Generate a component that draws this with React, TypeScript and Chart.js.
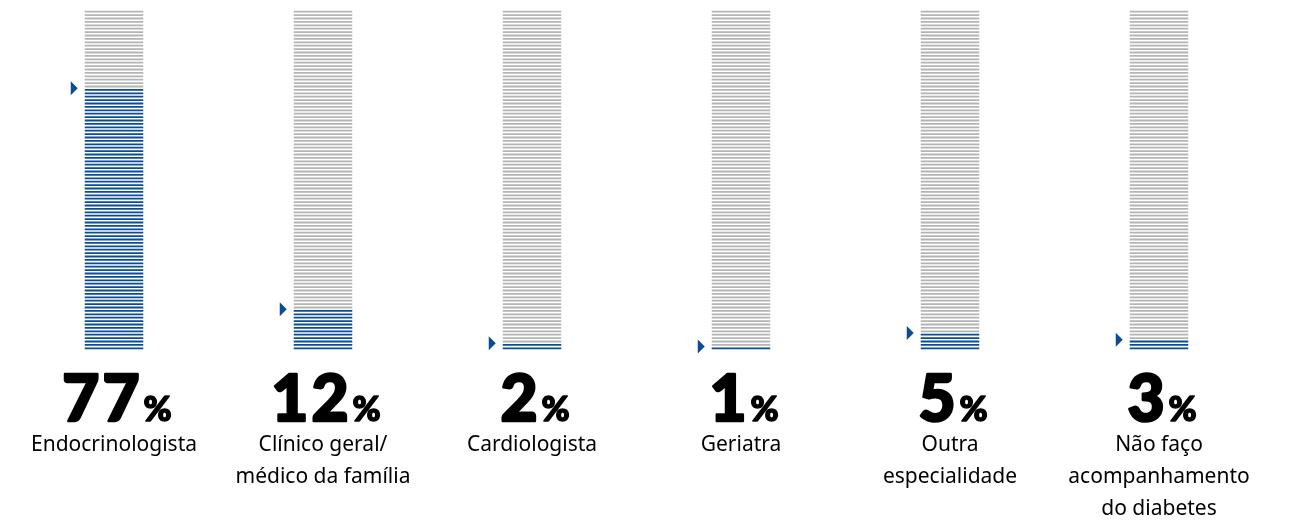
import React, { useEffect, useRef } from "react";
import { Chart, registerables } from "chart.js";

Chart.register(...registerables);

const categories: (string | string[])[] = [
  "Endocrinologista",
  ["Clínico geral/", "médico da família"],
  "Cardiologista",
  "Geriatra",
  ["Outra", "especialidade"],
  ["Não faço", "acompanhamento", "do diabetes"],
];
const percentValues = [77, 12, 2, 1, 5, 3];
const remainderValues = percentValues.map((v) => 100 - v);
const scaleMax = 100;

const BLUE = "#0b4c96";
const GREY = "#b4b4b4";

const stripesPlugin = {
  id: "stripes",
  afterDatasetsDraw(chart: any) {
    const ctx = chart.ctx;
    const y = chart.scales.y;
    const x = chart.scales.x;
    ctx.save();
    chart.data.datasets.forEach((ds: any, di: number) => {
      const meta = chart.getDatasetMeta(di);
      const color = ds.stripeColor;
      meta.data.forEach((bar: any, i: number) => {
        const props = bar.getProps(["x", "y", "base", "width"], true);
        const left = props.x - props.width / 2;
        const right = props.x + props.width / 2;
        const startVal = di === 0 ? 0 : percentValues[i];
        const endVal = startVal + ds.data[i];
        ctx.strokeStyle = color;
        ctx.lineWidth = 1.8;
        for (let u = startVal; u < endVal; u++) {
          const py = y.getPixelForValue(u + 0.5);
          ctx.beginPath();
          ctx.moveTo(left, py);
          ctx.lineTo(right, py);
          ctx.stroke();
        }
        if (di === 0) {
          const ty = y.getPixelForValue(percentValues[i]);
          const tipX = left - 7;
          ctx.fillStyle = BLUE;
          ctx.beginPath();
          ctx.moveTo(tipX - 7, ty - 7);
          ctx.lineTo(tipX, ty);
          ctx.lineTo(tipX - 7, ty + 7);
          ctx.closePath();
          ctx.fill();
        }
      });
    });
    // texts
    const numFont = "900 64px Lato, 'DejaVu Sans', sans-serif";
    const pctFont = "900 34px Lato, 'DejaVu Sans', sans-serif";
    const labFont = "21px 'Noto Sans', 'DejaVu Sans', sans-serif";
    percentValues.forEach((v, i) => {
      const cx = x.getPixelForValue(i);
      const numStr = String(v);
      ctx.font = numFont;
      (ctx as any).letterSpacing = "3px";
      const wn = ctx.measureText(numStr).width - 3;
      (ctx as any).letterSpacing = "0px";
      ctx.font = pctFont;
      const wp = ctx.measureText("%").width;
      const start = cx - (wn + wp + 4) / 2 + 3;
      ctx.fillStyle = "#000";
      ctx.strokeStyle = "#000";
      ctx.lineJoin = "round";
      ctx.textBaseline = "alphabetic";
      ctx.textAlign = "left";
      ctx.font = numFont;
      (ctx as any).letterSpacing = "3px";
      ctx.lineWidth = 2.5;
      ctx.fillText(numStr, start, 421);
      ctx.strokeText(numStr, start, 421);
      (ctx as any).letterSpacing = "0px";
      ctx.font = pctFont;
      ctx.lineWidth = 1.5;
      ctx.fillText("%", start + wn + 4, 421);
      ctx.strokeText("%", start + wn + 4, 421);
      const lab = categories[i];
      const lines = Array.isArray(lab) ? lab : [lab];
      ctx.font = labFont;
      ctx.textAlign = "center";
      lines.forEach((ln, k) => {
        ctx.fillText(ln, cx, 451 + k * 32);
      });
    });
    ctx.restore();
  },
};

export default function App() {
  const ref = useRef<HTMLCanvasElement>(null);
  useEffect(() => {
    if (!ref.current) return;
    const chart = new Chart(ref.current, {
      type: "bar",
      data: {
        labels: categories.map((c) => (Array.isArray(c) ? c.join(" ") : c)),
        datasets: [
          {
            label: "Respondentes",
            data: percentValues,
            backgroundColor: "rgba(0,0,0,0)",
            stripeColor: BLUE,
          } as any,
          {
            label: "Restante",
            data: remainderValues,
            backgroundColor: "rgba(0,0,0,0)",
            stripeColor: GREY,
          } as any,
        ],
      },
      options: {
        animation: false,
        responsive: false,
        maintainAspectRatio: false,
        layout: { padding: { left: 9.5, right: 25.5, top: 10, bottom: 170 } },
        datasets: { bar: { barPercentage: 0.28, categoryPercentage: 1 } },
        plugins: { legend: { display: false }, tooltip: { enabled: false } },
        scales: {
          x: { stacked: true, display: false },
          y: { stacked: true, display: false, min: 0, max: scaleMax },
        },
      },
      plugins: [stripesPlugin],
    });
    return () => chart.destroy();
  }, []);
  return (
    <div style={{ position: "absolute", left: 0, top: 0, width: 1289, height: 520 }}>
      <canvas ref={ref} width={1289} height={520} style={{ width: 1289, height: 520 }} />
    </div>
  );
}
